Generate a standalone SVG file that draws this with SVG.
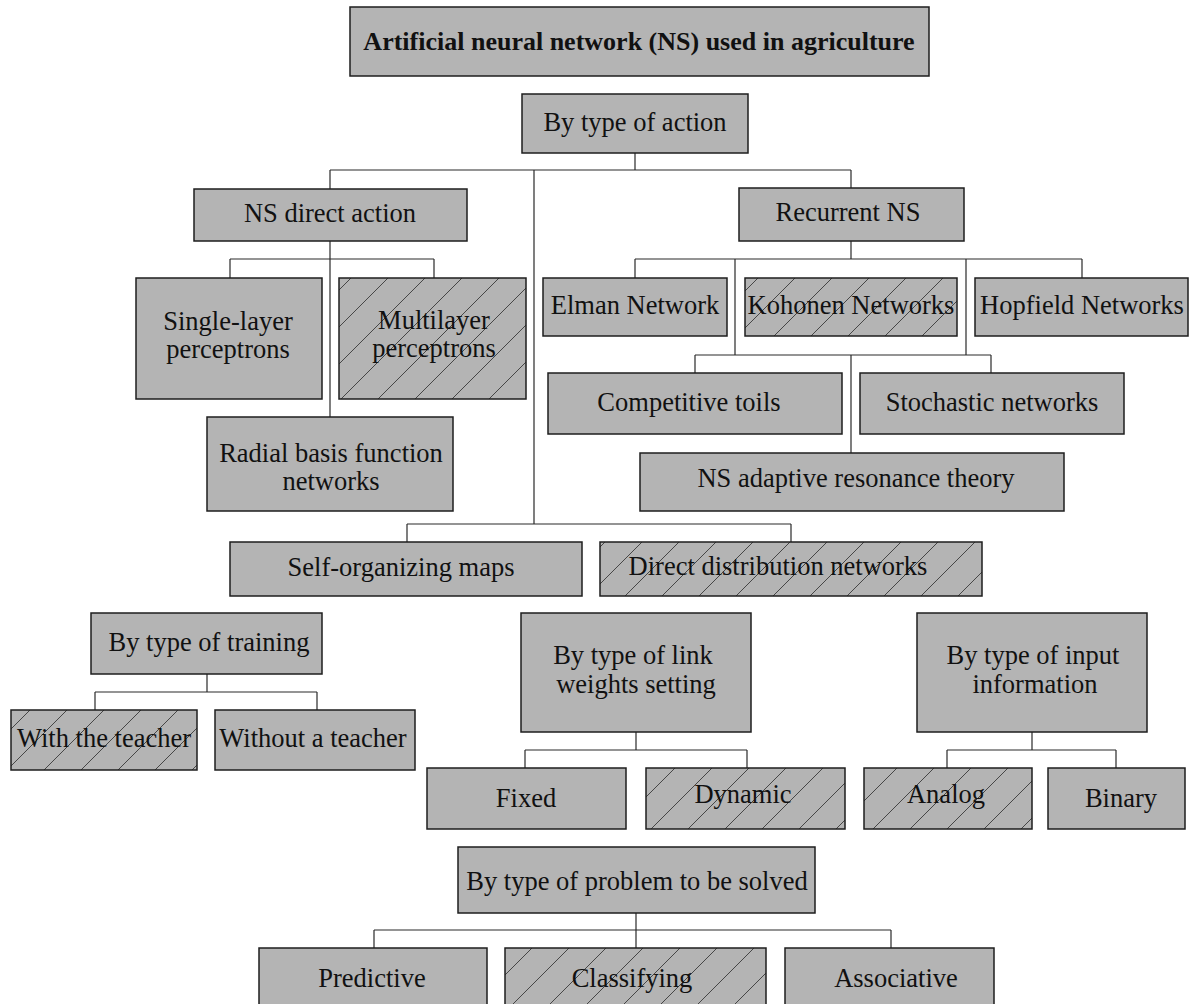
<svg xmlns="http://www.w3.org/2000/svg" width="1189" height="1004" viewBox="0 0 1189 1004">
<defs>
<pattern id="hatch" patternUnits="userSpaceOnUse" x="0" y="0" width="37" height="37">
<rect width="37" height="37" fill="#b4b4b4"/>
<path d="M0,37 L37,0 M-2,2 L2,-2 M35,39 L39,35" stroke="#3a3a3a" stroke-width="0.9" fill="none"/>
</pattern>
</defs>
<style>
.box{fill:#b4b4b4;stroke:#1e1e1e;stroke-width:1.5}
.hb{fill:url(#hatch);stroke:#1e1e1e;stroke-width:1.5}
.t{font-family:"Liberation Serif","Times New Roman",serif;font-size:26.5px;fill:#111;text-anchor:middle}
.tb{font-weight:bold;font-size:26px}
.c{fill:none;stroke:#2a2a2a;stroke-width:1.2}
</style>
<rect width="1189" height="1004" fill="#ffffff"/>
<g id="connectors">
<path class="c" d="M635,153 V170 M330,170 H851 M330,170 V189 M851,170 V188 M534,170 V524"/>
<path class="c" d="M330,241 V417 M230,259 H434 M230,259 V278 M434,259 V278"/>
<path class="c" d="M851,241 V259 M635,259 H1082 M635,259 V278 M1082,259 V278 M735,259 V355 M966,259 V355 M695,355 H991 M695,355 V373 M991,355 V373 M851,355 V453"/>
<path class="c" d="M407,524 H791 M407,524 V542 M791,524 V542"/>
<path class="c" d="M207,674 V692 M95,692 H317 M95,692 V710 M317,692 V710"/>
<path class="c" d="M636,732 V750 M525,750 H747 M525,750 V768 M747,750 V768"/>
<path class="c" d="M1032,732 V750 M947,750 H1116 M947,750 V768 M1116,750 V768"/>
<path class="c" d="M636,913 V930 M374,930 H891 M374,930 V948 M636,930 V948 M891,930 V948"/>
</g>
<g id="title"><rect class="box" x="350" y="7" width="579" height="69"/><text class="t tb" x="639" y="50">Artificial neural network (NS) used in agriculture</text></g>
<g id="action"><rect class="box" x="522" y="94" width="226" height="59"/><text class="t" x="635" y="131">By type of action</text></g>
<g id="direct"><rect class="box" x="194" y="189" width="273" height="52"/><text class="t" x="330" y="222">NS direct action</text></g>
<g id="recurrent"><rect class="box" x="739" y="188" width="225" height="53"/><text class="t" x="848" y="221">Recurrent NS</text></g>
<g id="single"><rect class="box" x="136" y="278" width="186" height="121"/><text class="t" x="228" y="330">Single-layer</text><text class="t" x="228" y="358">perceptrons</text></g>
<g id="multi"><rect class="hb" x="339" y="278" width="187" height="121"/><text class="t" x="434" y="329">Multilayer</text><text class="t" x="434" y="357">perceptrons</text></g>
<g id="radial"><rect class="box" x="207" y="417" width="246" height="94"/><text class="t" x="331" y="462">Radial basis function</text><text class="t" x="331" y="490">networks</text></g>
<g id="elman"><rect class="box" x="543" y="278" width="184" height="58"/><text class="t" x="635" y="314">Elman Network</text></g>
<g id="kohonen"><rect class="hb" x="745" y="278" width="212" height="58"/><text class="t" x="851" y="314">Kohonen Networks</text></g>
<g id="hopfield"><rect class="box" x="975" y="278" width="213" height="58"/><text class="t" x="1082" y="314">Hopfield Networks</text></g>
<g id="competitive"><rect class="box" x="548" y="373" width="294" height="61"/><text class="t" x="689" y="411">Competitive toils</text></g>
<g id="stochastic"><rect class="box" x="860" y="373" width="264" height="61"/><text class="t" x="992" y="411">Stochastic networks</text></g>
<g id="art"><rect class="box" x="640" y="453" width="424" height="58"/><text class="t" x="856" y="487">NS adaptive resonance theory</text></g>
<g id="som"><rect class="box" x="230" y="542" width="352" height="54"/><text class="t" x="401" y="576">Self-organizing maps</text></g>
<g id="ddn"><rect class="hb" x="600" y="542" width="382" height="54"/><text class="t" x="778" y="575">Direct distribution networks</text></g>
<g id="training"><rect class="box" x="91" y="613" width="231" height="61"/><text class="t" x="209" y="651">By type of training</text></g>
<g id="withteacher"><rect class="hb" x="11" y="710" width="186" height="60"/><text class="t" x="104" y="747">With the teacher</text></g>
<g id="withoutteacher"><rect class="box" x="215" y="710" width="200" height="60"/><text class="t" x="313" y="747">Without a teacher</text></g>
<g id="linkweights"><rect class="box" x="521" y="613" width="230" height="119"/><text class="t" x="633" y="664">By type of link</text><text class="t" x="636" y="693">weights setting</text></g>
<g id="inputinfo"><rect class="box" x="917" y="613" width="230" height="119"/><text class="t" x="1033" y="664">By type of input</text><text class="t" x="1035" y="693">information</text></g>
<g id="fixed"><rect class="box" x="427" y="768" width="199" height="61"/><text class="t" x="526" y="807">Fixed</text></g>
<g id="dynamic"><rect class="hb" x="646" y="768" width="199" height="61"/><text class="t" x="743" y="803">Dynamic</text></g>
<g id="analog"><rect class="hb" x="864" y="768" width="168" height="61"/><text class="t" x="946" y="803">Analog</text></g>
<g id="binary"><rect class="box" x="1048" y="768" width="137" height="61"/><text class="t" x="1121" y="807">Binary</text></g>
<g id="problem"><rect class="box" x="458" y="847" width="357" height="66"/><text class="t" x="637" y="890">By type of problem to be solved</text></g>
<g id="predictive"><rect class="box" x="259" y="948" width="228" height="70"/><text class="t" x="372" y="987">Predictive</text></g>
<g id="classifying"><rect class="hb" x="505" y="948" width="261" height="70"/><text class="t" x="632" y="987">Classifying</text></g>
<g id="associative"><rect class="box" x="785" y="948" width="209" height="70"/><text class="t" x="896" y="987">Associative</text></g>
</svg>
